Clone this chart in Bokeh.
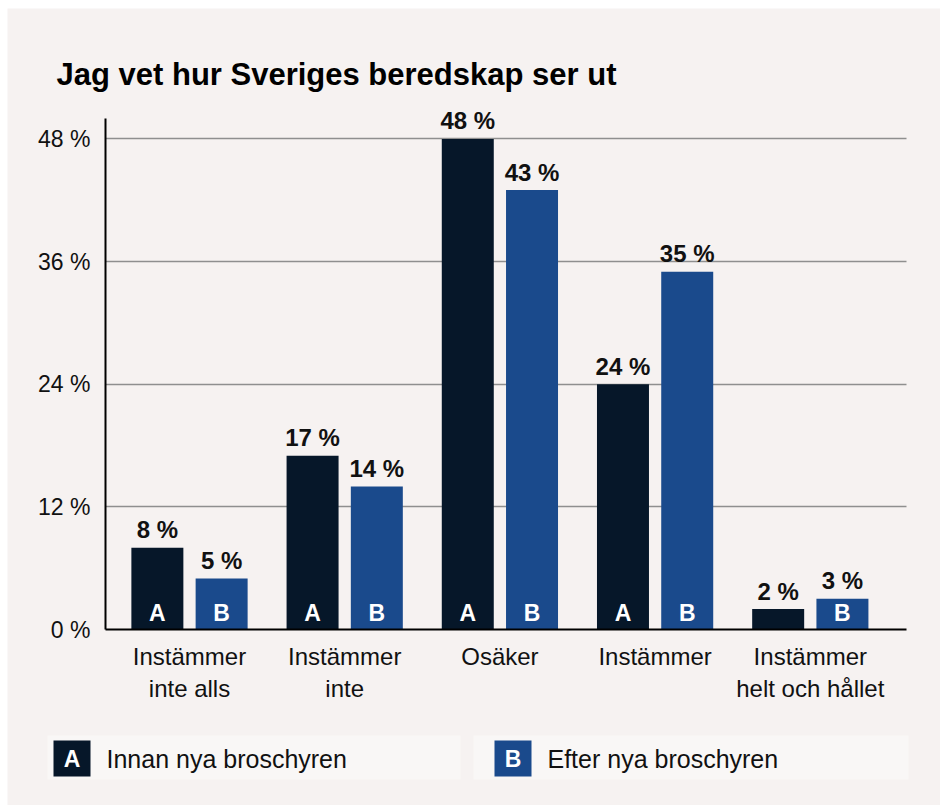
from bokeh.plotting import figure
from bokeh.models import ColumnDataSource, FixedTicker, Range1d
from bokeh.core.properties import value
from bokeh.embed import file_html
from bokeh.resources import INLINE

# ---------------- data ----------------
categories = ["Instämmer\ninte alls", "Instämmer\ninte", "Osäker", "Instämmer", "Instämmer\nhelt och hållet"]
series_letters = ["A", "B"]
series_names = ["Innan nya broschyren", "Efter nya broschyren"]
values_a = [8, 17, 48, 24, 2]
values_b = [5, 14, 43, 35, 3]
y_ticks = [0, 12, 24, 36, 48]
y_tick_labels = ["0 %", "12 %", "24 %", "36 %", "48 %"]
title_text = "Jag vet hur Sveriges beredskap ser ut"

# ---------------- layout / style ----------------
W, H = 940, 805
PX_X = 155.2      # pixels per category step
PX_Y = 10.22      # pixels per percentage point
X0, Y0 = 189, 629  # pixel position of first category centre / zero line
SHIFT = 9          # baseline correction for svg text glyphs

def dx(px):
    return (px - X0) / PX_X

def dy(py):
    return (Y0 - py) / PX_Y

FONT = "Liberation Sans"
BG = "#f6f2f1"
BAND = "#f9f7f6"
COL_A = "#061729"
COL_B = "#1a4a8c"
TXT = "#111111"
colors = [COL_A, COL_B]
OFF = 0.207
BAR_W = 0.335

p = figure(width=W, height=H, x_range=Range1d(dx(0), dx(W)), y_range=Range1d(dy(H), dy(0)),
           output_backend="svg", toolbar_location=None, min_border=0)
p.background_fill_color = "white"
p.border_fill_color = "white"
p.outline_line_color = None

# panel background
p.quad(left=dx(7), right=dx(W + 5), bottom=dy(H + 5), top=dy(8), fill_color=BG,
       line_color=None, level="image")

# title
p.text(x=[dx(56)], y=[dy(83 - SHIFT)], text=[title_text], text_font=value(FONT),
       text_font_size="31px", text_font_style="bold", text_color="#000000",
       text_baseline="alphabetic", text_align="left")

series_vals = [values_a, values_b]
offsets = [-OFF, OFF]
for k in range(2):
    xs = [i + offsets[k] for i in range(len(categories))]
    vals = series_vals[k]
    src = ColumnDataSource(dict(x=xs, top=vals, lbl=[f"{v} %" for v in vals]))
    p.vbar(x="x", top="top", width=BAR_W, source=src, fill_color=colors[k], line_color=None)
    p.text(x="x", y="top", text="lbl", source=src, text_align="center", text_baseline="alphabetic",
           y_offset=-9 - SHIFT, text_font=value(FONT), text_font_size="24px",
           text_font_style="bold", text_color=TXT)
    keep = [j for j, v in enumerate(vals) if v >= 3]
    lsrc = ColumnDataSource(dict(x=[xs[j] for j in keep], y=[0 for j in keep],
                                 t=[series_letters[k] for j in keep]))
    p.text(x="x", y="y", text="t", source=lsrc, text_align="center", text_baseline="alphabetic",
           y_offset=-8 - SHIFT, text_color="white", text_font=value(FONT), text_font_style="bold",
           text_font_size="23px")

# axes (fixed inside the full-canvas frame)
p.yaxis.fixed_location = dx(105)
p.yaxis.bounds = (0, dy(118))
p.xaxis.fixed_location = 0
p.xaxis.bounds = (dx(105), dx(906))
p.yaxis.ticker = FixedTicker(ticks=y_ticks)
p.yaxis.major_label_overrides = {t: l for t, l in zip(y_ticks, y_tick_labels)}
p.xaxis.ticker = FixedTicker(ticks=list(range(len(categories))))
p.xaxis.major_label_overrides = {i: c for i, c in enumerate(categories)}
for ax in (p.xaxis, p.yaxis):
    ax.axis_line_color = "#000000"
    ax.axis_line_width = 2
    ax.major_tick_line_color = None
    ax.minor_tick_line_color = None
    ax.major_label_text_font = FONT
    ax.major_label_text_color = TXT
p.yaxis.major_label_text_font_size = "23px"
p.yaxis.major_label_standoff = 9
p.xaxis.major_label_text_font_size = "24px"
p.xaxis.major_label_standoff = 7
p.xaxis.major_label_text_line_height = 1.2

p.xgrid.grid_line_color = None
p.ygrid.ticker = FixedTicker(ticks=y_ticks[1:])
p.ygrid.cross_bounds = (dx(105), dx(906))
p.ygrid.grid_line_color = "#8f8f8f"
p.ygrid.grid_line_width = 1.4

# ---------------- legend ----------------
band_l = [dx(47), dx(473)]
band_r = [dx(460), dx(908)]
sq_l = [53, 494]
text_x = [106, 547]
p.quad(left=band_l, right=band_r, bottom=dy(779), top=dy(735), fill_color=BAND, line_color=None,
       level="image")
p.quad(left=[dx(s) for s in sq_l], right=[dx(s + 37) for s in sq_l], bottom=dy(776), top=dy(740),
       fill_color=colors, line_color=None)
p.text(x=[dx(s + 18.5) for s in sq_l], y=dy(767 - SHIFT), text=series_letters, text_align="center",
       text_baseline="alphabetic", text_color="white", text_font=value(FONT),
       text_font_style="bold", text_font_size="23px")
p.text(x=[dx(t) for t in text_x], y=dy(767 - SHIFT), text=series_names, text_align="left",
       text_baseline="alphabetic", text_color=TXT, text_font=value(FONT), text_font_size="25px")

open("out.html", "w").write(file_html(p, INLINE))
